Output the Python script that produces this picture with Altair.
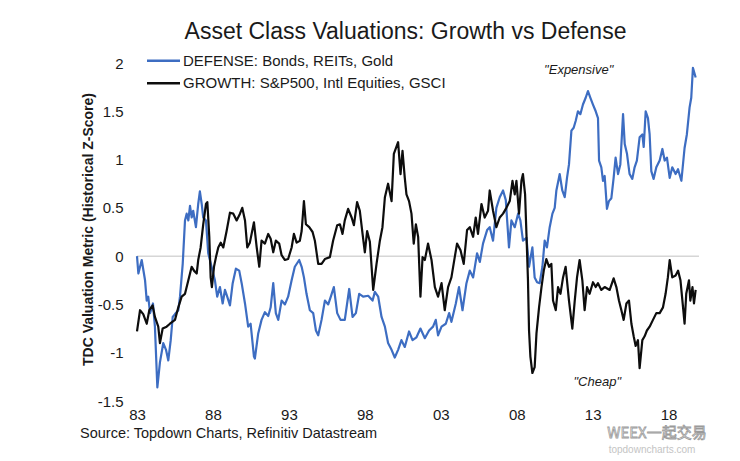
import altair as alt
import pandas as pd

FONT = "Liberation Sans"
TXT = "#1a1a1a"
BLUE = "#3d6dc2"
BLACK = "#0d0d0d"

DEF_LABEL = "DEFENSE: Bonds, REITs, Gold"
GRO_LABEL = "GROWTH: S&P500, Intl Equities, GSCI"
TITLE = "Asset Class Valuations: Growth vs Defense"
Y_TITLE = "TDC Valuation Metric (Historical Z-Score)"
SOURCE = "Source: Topdown Charts, Refinitiv Datastream"

defense_year = [
    1983.00, 1983.09, 1983.31, 1983.53, 1983.64, 1983.74, 1983.86, 1984.05, 1984.18, 1984.34,
    1984.51, 1984.73, 1984.91, 1985.06, 1985.22, 1985.35, 1985.50, 1985.72, 1985.83, 1986.01,
    1986.16, 1986.27, 1986.38, 1986.49, 1986.60, 1986.70, 1986.88, 1987.03, 1987.14, 1987.26,
    1987.36, 1987.54, 1987.69, 1987.91, 1988.13, 1988.28, 1988.46, 1988.64, 1988.79, 1988.94,
    1989.12, 1989.30, 1989.51, 1989.73, 1989.89, 1990.11, 1990.32, 1990.48, 1990.70, 1990.76,
    1990.98, 1991.20, 1991.42, 1991.64, 1991.80, 1991.97, 1992.14, 1992.30, 1992.52, 1992.74,
    1992.95, 1993.18, 1993.39, 1993.68, 1993.84, 1993.99, 1994.16, 1994.38, 1994.60, 1994.78,
    1994.93, 1995.15, 1995.37, 1995.59, 1995.76, 1995.96, 1996.18, 1996.40, 1996.68, 1996.97,
    1997.19, 1997.41, 1997.63, 1997.89, 1998.22, 1998.51, 1998.66, 1998.88, 1999.10, 1999.32,
    1999.53, 1999.76, 1999.97, 2000.19, 2000.41, 2000.63, 2000.91, 2001.14, 2001.40, 2001.66,
    2001.95, 2002.23, 2002.49, 2002.67, 2002.82, 2003.05, 2003.33, 2003.55, 2003.70, 2003.99,
    2004.20, 2004.43, 2004.69, 2004.91, 2005.13, 2005.39, 2005.57, 2005.78, 2006.05, 2006.22,
    2006.44, 2006.66, 2006.88, 2007.10, 2007.28, 2007.49, 2007.65, 2007.87, 2008.09, 2008.24,
    2008.41, 2008.64, 2008.81, 2009.03, 2009.18, 2009.34, 2009.51, 2009.69, 2009.84, 2009.99,
    2010.17, 2010.35, 2010.50, 2010.61, 2010.83, 2011.00, 2011.16, 2011.31, 2011.44, 2011.60,
    2011.75, 2011.88, 2012.03, 2012.19, 2012.36, 2012.54, 2012.69, 2012.85, 2013.02, 2013.20,
    2013.35, 2013.42, 2013.57, 2013.68, 2013.79, 2013.94, 2014.07, 2014.23, 2014.38, 2014.51,
    2014.67, 2014.82, 2015.00, 2015.11, 2015.26, 2015.43, 2015.61, 2015.76, 2015.91, 2016.09,
    2016.27, 2016.36, 2016.49, 2016.64, 2016.75, 2016.86, 2017.01, 2017.19, 2017.41, 2017.59,
    2017.74, 2017.89, 2018.07, 2018.24, 2018.46, 2018.62, 2018.84, 2019.05, 2019.20, 2019.38,
    2019.49, 2019.60, 2019.78,
]
defense_value = [
    0.00, -0.18, -0.04, -0.25, -0.46, -0.42, -0.59, -0.49, -0.73, -1.36,
    -1.10, -0.90, -0.97, -1.08, -0.87, -0.63, -0.60, -0.56, -0.42, -0.08,
    0.37, 0.44, 0.37, 0.52, 0.40, 0.47, 0.30, 0.54, 0.67, 0.54,
    0.40, 0.37, 0.03, -0.11, -0.25, -0.42, -0.32, -0.49, -0.35, -0.42,
    -0.51, -0.28, -0.13, -0.15, -0.28, -0.49, -0.73, -0.70, -1.04, -1.06,
    -0.80, -0.66, -0.58, -0.62, -0.53, -0.28, -0.59, -0.66, -0.46, -0.50,
    -0.42, -0.25, -0.11, -0.04, -0.11, -0.22, -0.39, -0.56, -0.59, -0.77,
    -0.82, -0.66, -0.46, -0.50, -0.42, -0.32, -0.59, -0.66, -0.66, -0.34,
    -0.63, -0.59, -0.39, -0.42, -0.41, -0.46, -0.37, -0.42, -0.63, -0.73,
    -0.90, -0.97, -1.05, -0.97, -0.87, -0.94, -0.78, -0.87, -0.84, -0.75,
    -0.85, -0.77, -0.73, -0.66, -0.82, -0.73, -0.70, -0.59, -0.68, -0.49,
    -0.32, -0.56, -0.28, -0.15, -0.22, 0.03, -0.06, 0.13, 0.27, 0.30,
    0.16, 0.50, 0.61, 0.68, 0.58, 0.09, 0.37, 0.30, 0.44, 0.37,
    0.16, 0.19, -0.11, 0.09, -0.22, -0.27, -0.28, -0.11, 0.16, 0.09,
    0.30, 0.44, 0.50, 0.68, 0.85, 0.68, 0.61, 0.81, 0.95, 1.30,
    1.33, 1.40, 1.50, 1.47, 1.57, 1.64, 1.71, 1.64, 1.57, 1.50,
    1.43, 0.99, 0.92, 0.78, 0.83, 0.49, 0.57, 0.60, 0.81, 1.02,
    0.85, 0.95, 1.47, 1.16, 1.06, 0.85, 0.80, 0.92, 0.99, 1.23,
    1.26, 1.13, 1.50, 1.43, 1.26, 0.88, 0.80, 0.92, 0.99, 1.11,
    0.99, 1.02, 0.81, 0.92, 0.85, 0.90, 0.78, 1.12, 1.26, 1.54,
    1.64, 1.95, 1.85,
]

growth_year = [
    1983.00, 1983.20, 1983.41, 1983.64, 1983.81, 1984.03, 1984.18, 1984.40, 1984.51, 1984.69,
    1984.95, 1985.17, 1985.50, 1985.72, 1985.94, 1986.16, 1986.38, 1986.60, 1986.75, 1986.93,
    1987.03, 1987.19, 1987.36, 1987.54, 1987.63, 1987.76, 1987.85, 1987.93, 1988.07, 1988.20,
    1988.35, 1988.51, 1988.68, 1988.90, 1989.12, 1989.34, 1989.56, 1989.78, 1989.93, 1990.11,
    1990.26, 1990.43, 1990.70, 1990.88, 1991.05, 1991.20, 1991.42, 1991.64, 1991.80, 1991.97,
    1992.14, 1992.36, 1992.52, 1992.74, 1992.95, 1993.18, 1993.33, 1993.51, 1993.72, 1993.84,
    1993.99, 1994.12, 1994.34, 1994.56, 1994.71, 1994.93, 1995.15, 1995.37, 1995.70, 1995.91,
    1996.18, 1996.36, 1996.53, 1996.68, 1996.90, 1997.13, 1997.28, 1997.49, 1997.67, 1997.85,
    1998.00, 1998.15, 1998.33, 1998.55, 1998.77, 1998.99, 1999.16, 1999.32, 1999.53, 1999.76,
    1999.91, 2000.19, 2000.35, 2000.48, 2000.63, 2000.74, 2000.91, 2001.07, 2001.22, 2001.36,
    2001.51, 2001.66, 2001.80, 2001.95, 2002.16, 2002.39, 2002.61, 2002.82, 2003.05, 2003.26,
    2003.48, 2003.70, 2003.92, 2004.07, 2004.30, 2004.51, 2004.73, 2004.91, 2005.13, 2005.30,
    2005.45, 2005.68, 2005.89, 2006.11, 2006.22, 2006.44, 2006.66, 2006.88, 2007.10, 2007.32,
    2007.54, 2007.72, 2007.87, 2007.98, 2008.15, 2008.31, 2008.41, 2008.55, 2008.64, 2008.74,
    2008.81, 2008.90, 2009.03, 2009.18, 2009.30, 2009.47, 2009.63, 2009.78, 2009.95, 2010.13,
    2010.28, 2010.39, 2010.57, 2010.72, 2010.88, 2011.05, 2011.22, 2011.44, 2011.66, 2011.82,
    2011.97, 2012.14, 2012.32, 2012.47, 2012.63, 2012.80, 2013.02, 2013.20, 2013.35, 2013.57,
    2013.79, 2014.12, 2014.38, 2014.56, 2014.73, 2014.89, 2015.04, 2015.22, 2015.39, 2015.55,
    2015.70, 2015.83, 2015.98, 2016.09, 2016.27, 2016.42, 2016.57, 2016.75, 2016.97, 2017.19,
    2017.41, 2017.63, 2017.80, 2017.95, 2018.07, 2018.24, 2018.46, 2018.62, 2018.78, 2018.95,
    2019.05, 2019.16, 2019.34, 2019.43, 2019.57, 2019.67, 2019.78,
]
growth_value = [
    -0.78, -0.56, -0.60, -0.70, -0.56, -0.51, -0.63, -0.73, -0.90, -0.75,
    -0.73, -0.70, -0.66, -0.53, -0.42, -0.39, -0.25, -0.11, -0.15, -0.18,
    -0.04, 0.09, 0.33, 0.54, 0.56, 0.20, -0.22, -0.32, -0.11, -0.01,
    0.09, 0.14, 0.09, 0.26, 0.45, 0.44, 0.37, 0.44, 0.50, 0.37,
    0.09, 0.14, 0.35, 0.09, -0.11, 0.16, 0.13, 0.23, 0.18, 0.04,
    0.16, 0.13, 0.01, -0.04, -0.03, 0.09, 0.23, 0.14, 0.16, 0.26,
    0.57, 0.33, 0.30, 0.25, 0.16, -0.08, -0.08, -0.03, -0.01, 0.16,
    0.32, 0.33, 0.23, 0.37, 0.49, 0.40, 0.32, 0.56, 0.47, 0.23,
    0.04, 0.26, 0.15, -0.35, -0.08, 0.16, 0.30, 0.61, 0.75, 0.57,
    1.06, 1.18, 0.85, 1.09, 0.81, 0.64, 0.57, 0.44, 0.13, 0.33,
    0.20, -0.42, -0.01, -0.04, 0.13, -0.04, -0.32, -0.42, -0.28, -0.56,
    -0.32, -0.22, -0.01, 0.13, 0.06, -0.08, 0.27, 0.30, 0.20, 0.40,
    0.23, 0.54, 0.40, 0.47, 0.68, 0.47, 0.30, 0.40, 0.44, 0.50,
    0.57, 0.78, 0.64, 0.78, 0.44, 0.78, 0.85, 0.64, 0.23, -0.25,
    -0.77, -1.04, -1.21, -1.15, -0.80, -0.53, -0.32, -0.15, -0.03, -0.11,
    -0.08, -0.46, -0.56, -0.32, -0.39, -0.22, -0.11, -0.46, -0.75, -0.46,
    -0.22, -0.04, -0.25, -0.56, -0.32, -0.39, -0.27, -0.32, -0.28, -0.35,
    -0.32, -0.35, -0.23, -0.32, -0.46, -0.56, -0.66, -0.49, -0.46, -0.70,
    -0.83, -0.93, -0.87, -1.16, -0.87, -0.83, -0.77, -0.73, -0.66, -0.59,
    -0.59, -0.53, -0.39, -0.22, -0.04, -0.22, -0.20, -0.15, -0.25, -0.53,
    -0.70, -0.39, -0.25, -0.46, -0.32, -0.49, -0.35,
]

x_ticks = [1983, 1988, 1993, 1998, 2003, 2008, 2013, 2018]
y_ticks = [-1.5, -1, -0.5, 0, 0.5, 1, 1.5, 2]

ann_text = ['"Expensive"', '"Cheap"']
ann_year = [2012.08, 2013.3]
ann_value = [1.93, -1.30]

df = pd.concat([
    pd.DataFrame({"year": defense_year, "value": defense_value, "series": DEF_LABEL}),
    pd.DataFrame({"year": growth_year, "value": growth_value, "series": GRO_LABEL}),
], ignore_index=True)

x_enc = alt.X(
    "year:Q",
    scale=alt.Scale(domain=[1983, 2020], nice=False, zero=False),
    axis=alt.Axis(
        values=x_ticks, labelExpr="substring(toString(datum.value), 2, 4)",
        title=None, grid=False, ticks=False, domain=False, labelFlush=False,
        labelFontSize=15, labelPadding=6, labelColor=TXT, labelFont=FONT,
    ),
)
y_enc = alt.Y(
    "value:Q",
    scale=alt.Scale(domain=[-1.5, 2], nice=False, zero=False),
    axis=alt.Axis(
        values=y_ticks, labelExpr="'' + datum.value",
        title=Y_TITLE, titleFont=FONT, titleFontSize=14, titleFontWeight="bold",
        titleColor=TXT, titleX=-49, titleY=166, titleAngle=-90,
        titleAlign="center", titleBaseline="middle",
        grid=False, ticks=False, domain=False,
        labelFontSize=15, labelPadding=14, labelColor=TXT, labelFont=FONT,
    ),
)

zero = alt.Chart(pd.DataFrame({"value": [0]})).mark_rule(
    color="#d6d6d6", strokeWidth=1.5
).encode(y=alt.Y("value:Q"))

lines = alt.Chart(df).mark_line(strokeWidth=2.2, strokeJoin="round").encode(
    x=x_enc,
    y=y_enc,
    color=alt.Color(
        "series:N",
        scale=alt.Scale(domain=[DEF_LABEL, GRO_LABEL], range=[BLUE, BLACK]),
        legend=None,
    ),
    order=alt.Order("year:Q"),
)

# legend drawn by hand (two rows)
one = pd.DataFrame({"t": [""]})
leg_layers = []
for label, col, yy in [(DEF_LABEL, BLUE, -2.3), (GRO_LABEL, BLACK, 20.3)]:
    leg_layers.append(
        alt.Chart(one).mark_rule(color=col, strokeWidth=2.5).encode(
            x=alt.value(10), x2=alt.value(43), y=alt.value(yy)
        )
    )
    leg_layers.append(
        alt.Chart(pd.DataFrame({"t": [label]})).mark_text(
            font=FONT, fontSize=15, color=TXT, align="left", baseline="middle"
        ).encode(x=alt.value(46), y=alt.value(yy), text="t:N")
    )

ann = alt.Chart(pd.DataFrame({"year": ann_year, "value": ann_value, "t": ann_text})).mark_text(
    font=FONT, fontSize=13, fontStyle="italic", color=TXT, align="center", baseline="middle"
).encode(x="year:Q", y="value:Q", text="t:N")

title = alt.Chart(pd.DataFrame({"t": [TITLE]})).mark_text(
    font=FONT, fontSize=23, color=TXT, align="center", baseline="middle"
).encode(x=alt.value(268.5), y=alt.value(-31.3), text="t:N")

source = alt.Chart(pd.DataFrame({"t": [SOURCE]})).mark_text(
    font=FONT, fontSize=14.5, color=TXT, align="left", baseline="middle"
).encode(x=alt.value(-57), y=alt.value(370.5), text="t:N")

wm1 = alt.Chart(pd.DataFrame({"t": ["WEEX一起交易"]})).mark_text(
    font="Noto Sans CJK SC", fontSize=15, color="white", stroke="#9a9a9a", strokeWidth=0.8,
    align="center", baseline="middle"
).encode(x=alt.value(520), y=alt.value(370), text="t:N")

wm2 = alt.Chart(pd.DataFrame({"t": ["topdowncharts.com"]})).mark_text(
    font=FONT, fontSize=10, color="#c4c4c4", align="center", baseline="middle"
).encode(x=alt.value(515), y=alt.value(387), text="t:N")

chart = alt.layer(zero, lines, ann, *leg_layers, title, source, wm2, wm1).properties(
    width=562, height=338,
    padding={"left": 129, "top": 55, "right": 30, "bottom": 60},
    autosize=alt.AutoSizeParams(type="none"),
    background="white",
).configure_view(stroke=None)

chart.save("out.html", embed_options={"renderer": "svg", "actions": False})
